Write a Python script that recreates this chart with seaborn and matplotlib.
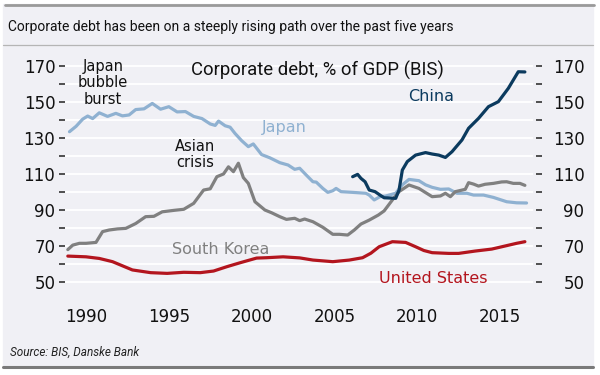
import numpy as np
import pandas as pd
import matplotlib
matplotlib.use("Agg")
import matplotlib.pyplot as plt
import seaborn as sns

# Corporate debt, % of GDP (BIS)
japan_years = [1989.0, 1989.4, 1989.8, 1990.1, 1990.4, 1990.8, 1991.3, 1991.8, 1992.2, 1992.6,
               1993.0, 1993.5, 1994.0, 1994.5, 1995.0, 1995.5, 1996.0, 1996.5, 1997.0, 1997.5,
               1997.8, 1998.0, 1998.4, 1998.7, 1999.0, 1999.4, 1999.8, 2000.1, 2000.6, 2001.1,
               2001.7, 2002.2, 2002.6, 2002.9, 2003.3, 2003.7, 2003.9, 2004.3, 2004.6, 2004.9,
               2005.1, 2005.4, 2006.1, 2006.9, 2007.1, 2007.4, 2007.75, 2008.1, 2008.7, 2009.1,
               2009.5, 2010.1, 2010.5, 2010.9, 2011.4, 2011.9, 2012.4, 2013.0, 2013.4, 2014.0,
               2014.6, 2015.4, 2016.0, 2016.6]
japan_values = [133.5, 136.5, 140.5, 142.2, 140.8, 144.0, 142.0, 143.7, 142.3, 142.8,
                145.8, 146.2, 149.2, 146.0, 147.4, 144.5, 144.7, 142.0, 140.8, 137.8,
                137.0, 139.4, 136.8, 136.0, 132.5, 128.5, 125.2, 126.7, 120.8, 119.0,
                116.3, 115.0, 112.6, 113.2, 109.4, 105.7, 105.5, 102.0, 99.8, 100.7,
                102.0, 100.2, 99.8, 99.3, 98.3, 95.6, 97.4, 97.8, 99.3, 104.0,
                107.0, 106.3, 104.0, 102.6, 101.5, 101.7, 99.3, 99.3, 98.3, 98.3,
                97.0, 94.6, 94.0, 93.9]

china_years = [2006.1, 2006.4, 2006.6, 2006.85, 2007.1, 2007.45, 2007.75, 2008.0, 2008.7, 2008.9,
               2009.1, 2009.4, 2009.9, 2010.5, 2010.9, 2011.3, 2011.7, 2012.1, 2012.7, 2013.1,
               2013.7, 2014.3, 2014.9, 2015.5, 2016.1, 2016.5]
china_values = [108.5, 109.8, 107.6, 105.7, 101.1, 100.2, 98.3, 96.8, 96.5, 101.0,
                112.2, 116.9, 120.5, 121.9, 121.1, 120.5, 119.2, 122.4, 128.9, 135.4,
                140.9, 147.4, 150.2, 157.6, 166.8, 166.7]

korea_years = [1988.9, 1989.2, 1989.6, 1990.0, 1990.6, 1991.0, 1991.4, 1991.9, 1992.4, 1993.0,
               1993.6, 1994.1, 1994.6, 1995.3, 1995.9, 1996.5, 1997.1, 1997.5, 1997.9, 1998.3,
               1998.6, 1998.9, 1999.2, 1999.5, 1999.8, 2000.2, 2000.8, 2001.2, 2001.7, 2002.1,
               2002.6, 2002.9, 2003.2, 2003.7, 2004.3, 2004.9, 2005.3, 2005.8, 2006.2, 2006.6,
               2007.1, 2007.65, 2008.0, 2008.5, 2008.9, 2009.5, 2010.1, 2010.9, 2011.4, 2011.7,
               2012.0, 2012.3, 2012.9, 2013.1, 2013.4, 2013.7, 2014.1, 2014.6, 2015.1, 2015.4,
               2015.8, 2016.2, 2016.5]
korea_values = [68.0, 70.5, 71.5, 71.5, 72.0, 78.0, 78.9, 79.5, 79.8, 82.5,
                86.3, 86.5, 89.0, 89.8, 90.4, 93.7, 101.1, 101.8, 108.5, 110.0,
                114.0, 111.3, 116.0, 108.0, 104.8, 94.6, 90.0, 88.5, 86.3, 84.8,
                85.4, 84.1, 85.0, 83.5, 80.4, 76.5, 76.5, 76.1, 78.9, 82.2,
                84.4, 87.2, 89.5, 95.6, 100.2, 103.9, 102.0, 97.4, 97.8, 99.3,
                97.4, 100.2, 101.5, 105.2, 104.4, 103.3, 104.3, 104.8, 105.6, 105.7,
                104.8, 104.8, 103.7]

us_years = [1988.9, 1990.0, 1990.8, 1991.6, 1992.2, 1992.8, 1993.9, 1994.9, 1995.9, 1996.9,
            1997.7, 1998.5, 1999.3, 2000.3, 2000.9, 2001.9, 2002.9, 2003.7, 2004.9, 2005.9,
            2006.7, 2007.2, 2007.7, 2008.5, 2009.3, 2009.9, 2010.4, 2010.9, 2011.9, 2012.5,
            2013.5, 2014.5, 2015.3, 2016.0, 2016.5]
us_values = [64.4, 64.0, 63.1, 61.3, 59.0, 56.7, 55.2, 54.8, 55.4, 55.2,
             56.1, 58.5, 60.7, 63.3, 63.5, 64.0, 63.4, 62.2, 61.3, 62.2,
             63.5, 66.0, 69.6, 72.4, 72.0, 69.6, 67.5, 66.3, 65.9, 65.9,
             67.2, 68.3, 70.0, 71.5, 72.4]

x_ticks = [1990, 1995, 2000, 2005, 2010, 2015]
y_labels = [50, 70, 90, 110, 130, 150, 170]
y_minor = [60, 80, 100, 120, 140, 160]

bg = "#f0f0f5"
c_japan = "#8fb1d1"
c_china = "#0b3a5e"
c_korea = "#808080"
c_us = "#b3151e"

sns.set_style("white")
plt.rcParams["font.family"] = ["DejaVu Sans"]

W, H = 600, 375
fig = plt.figure(figsize=(6, 3.75), dpi=100, facecolor="white")

# panel background and rules
fig.patches.append(plt.Rectangle((3 / W, 1 - 367 / H), 590 / W, 363 / H,
                                 transform=fig.transFigure, color=bg, zorder=-10))
fig.add_artist(plt.Line2D([5 / W, 594 / W], [1 - 5 / H] * 2, color="#9a9a9a", lw=2, zorder=-5))
fig.add_artist(plt.Line2D([3 / W, 593 / W], [1 - 44.5 / H] * 2, color="#b5b5b5", lw=0.9, zorder=-5))
fig.add_artist(plt.Line2D([3 / W, 593 / W], [1 - 367 / H] * 2, color="#7a7a7a", lw=2.2, zorder=-5))

fig.text(8 / W, 1 - 27 / H, "Corporate debt has been on a steeply rising path over the past five years",
         fontsize=10, family="Roboto", va="center", ha="left", color="#111111")
fig.text(10 / W, 1 - 352 / H, "Source: BIS, Danske Bank", fontsize=8.5, family="Roboto",
         style="italic", va="center", ha="left", color="#222222")

# axes in pixel layout
left, right, top, bottom = 65, 533, 55.2, 293
ax = fig.add_axes([left / W, 1 - bottom / H, (right - left) / W, (bottom - top) / H])
ax.patch.set_alpha(0)

for yrs, vals, col in [(japan_years, japan_values, c_japan),
                       (korea_years, korea_values, c_korea),
                       (us_years, us_values, c_us),
                       (china_years, china_values, c_china)]:
    df = pd.DataFrame({"year": yrs, "value": vals})
    sns.lineplot(data=df, x="year", y="value", color=col, lw=2.3, ax=ax, zorder=3)

ax.set_xlim(1988.73, 2016.99)
ax.set_ylim(43.9, 176)
ax.set_xlabel("")
ax.set_ylabel("")
for s in ax.spines.values():
    s.set_visible(False)

ax.set_xticks(x_ticks)
ax.set_xticklabels([str(t) for t in x_ticks])
ax.set_yticks(y_labels)
ax.set_yticks(y_minor, minor=True)
ax.grid(False)
for v in y_labels + y_minor:
    ax.axhline(v, color="white", lw=1.3, zorder=1)

ax.tick_params(axis="x", direction="out", length=4, width=1.2, color="#333333",
               pad=7, labelsize=12, labelcolor="#111111")
ax.tick_params(axis="y", which="both", direction="out", length=4, width=1.2,
               color="#333333", pad=3, labelsize=12, labelcolor="#111111")

ax2 = ax.twinx()
ax2.set_ylim(ax.get_ylim())
ax2.set_yticks(y_labels)
ax2.set_yticks(y_minor, minor=True)
for s in ax2.spines.values():
    s.set_visible(False)
ax2.spines["right"].set_position(("outward", 2))
ax2.tick_params(axis="y", which="both", direction="out", length=4, width=1.2,
                color="#333333", pad=31, labelsize=12, labelcolor="#111111")
for t in ax2.get_yticklabels():
    t.set_horizontalalignment("right")

# annotations
ax.text(2003.95, 167.8, "Corporate debt, % of GDP (BIS)", fontsize=13.3, family="Roboto",
        ha="center", va="center", color="#111111")
ax.text(1991.03, 160.6, "Japan\nbubble\nburst", fontsize=10.5, ha="center", va="center",
        linespacing=1.1, color="#111111")
ax.text(1996.58, 120.8, "Asian\ncrisis", fontsize=10.5, ha="center", va="center",
        linespacing=1.1, color="#111111")
ax.text(2010.83, 152.8, "China", fontsize=11.5, ha="center", va="center", color=c_china)
ax.text(2001.96, 136.1, "Japan", fontsize=11.5, ha="center", va="center", color=c_japan)
ax.text(1998.12, 68.2, "South Korea", fontsize=11.5, ha="center", va="center", color=c_korea)
ax.text(2010.98, 52.0, "United States", fontsize=11.5, ha="center", va="center", color=c_us)

fig.savefig("out.png", dpi=100, facecolor="white")
